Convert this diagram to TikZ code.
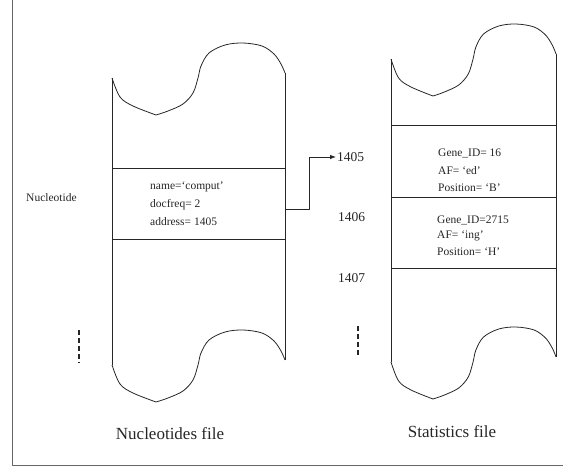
\documentclass[tikz,border=0pt]{standalone}
\usepackage{fontspec}
\setmainfont{Liberation Serif}
\usetikzlibrary{arrows.meta}
\newcommand{\fwave}[3]{%
  \draw[outl, shift={(#1,#2)}, xscale=#3]
    plot[smooth, tension=0.55] coordinates {(0,0) (8,19) (21,28) (44,37)}
    plot[smooth, tension=0.55] coordinates {(44,37) (56,33) (71,26) (81,15) (86,0) (89,-12) (97,-25) (113,-33) (131,-35) (150,-32) (162,-24) (169,-14) (173,-5)};}
\begin{document}
\begin{tikzpicture}[x=1pt,y=-1pt, line join=round,
  outl/.style={draw=black!85, line width=0.8pt},
  rec/.style={draw=black!85, line width=0.8pt, inner sep=0pt},
  txt/.style={anchor=west, inner sep=0pt, text=black!85, font=\fontsize{11.5}{12}\selectfont},
  num/.style={anchor=west, inner sep=1pt, text=black!85, font=\fontsize{13.5}{14}\selectfont},
  captxt/.style={inner sep=0pt, text=black!85, font=\fontsize{17}{18}\selectfont},
  dsh/.style={draw=black!85, line width=1.6pt, dash pattern=on 5pt off 3pt}]
\useasboundingbox (0,0) rectangle (563,466);
% frame
\draw[black!60, line width=1pt] (12.5,0) -- (12.5,465) -- (563,465);

% left file shape
\fwave{112}{78}{1}
\fwave{112}{365}{1}
\draw[outl] (112,78) -- (112,365);
\draw[outl] (285,73) -- (285,360);
\node[rec, minimum width=173pt, minimum height=71pt] (lbox) at (198.5,203.5) {};
\draw[draw=black!85, line width=1.4pt] (lbox.north east) -- (lbox.south east) -- (lbox.south west);
\node[txt] (t1) at (150,187) {name=‘comput’};
\node[txt] (t2) at (150,205) {docfreq= 2};
\node[txt] (t3) at (150,222) {address= 1405};
\node[txt] (nuc) at (26,198) {Nucleotide};
\draw[dsh] (79,330) -- (79,363);

% right file shape
\fwave{391}{59}{0.954}
\fwave{391}{362}{0.954}
\draw[outl] (391,59) -- (391,362);
\draw[outl] (556,54) -- (556,357);
\node[rec, minimum width=165pt, minimum height=72pt] (g1) at (473.5,161) {};
\node[rec, minimum width=165pt, minimum height=71pt] (g2) at (473.5,232.5) {};
\draw[draw=black!85, line width=1.8pt] (g1.south west) -- ++(37,0);
\draw[draw=black!85, line width=1.8pt] (g1.south east) -- ++(-38,0);
\node[txt] (a1) at (438,153) {Gene\_ID= 16};
\node[txt] (a2) at (438,171) {AF= ‘ed’};
\node[txt] (a3) at (438,188) {Position= ‘B’};
\node[txt] (b1) at (437,220) {Gene\_ID=2715};
\node[txt] (b2) at (437,236) {AF= ‘ing’};
\node[txt] (b3) at (437,252) {Position= ‘H’};
\node[num] (n1405) at (336,157) {1405};
\node[num] (n1406) at (337,217) {1406};
\node[num] (n1407) at (337,278) {1407};
\draw[dsh] (358,326) -- (358,357);

% pointer
\draw[outl, -{Latex[length=6pt,width=4.5pt]}] ([yshift=-5.5pt]lbox.east) -- ++(24,0) |- (n1405.west);

% captions
\node[captxt] (c1) at (170,434) {Nucleotides file};
\node[captxt] (c2) at (452,432) {Statistics file};
\end{tikzpicture}
\end{document}
